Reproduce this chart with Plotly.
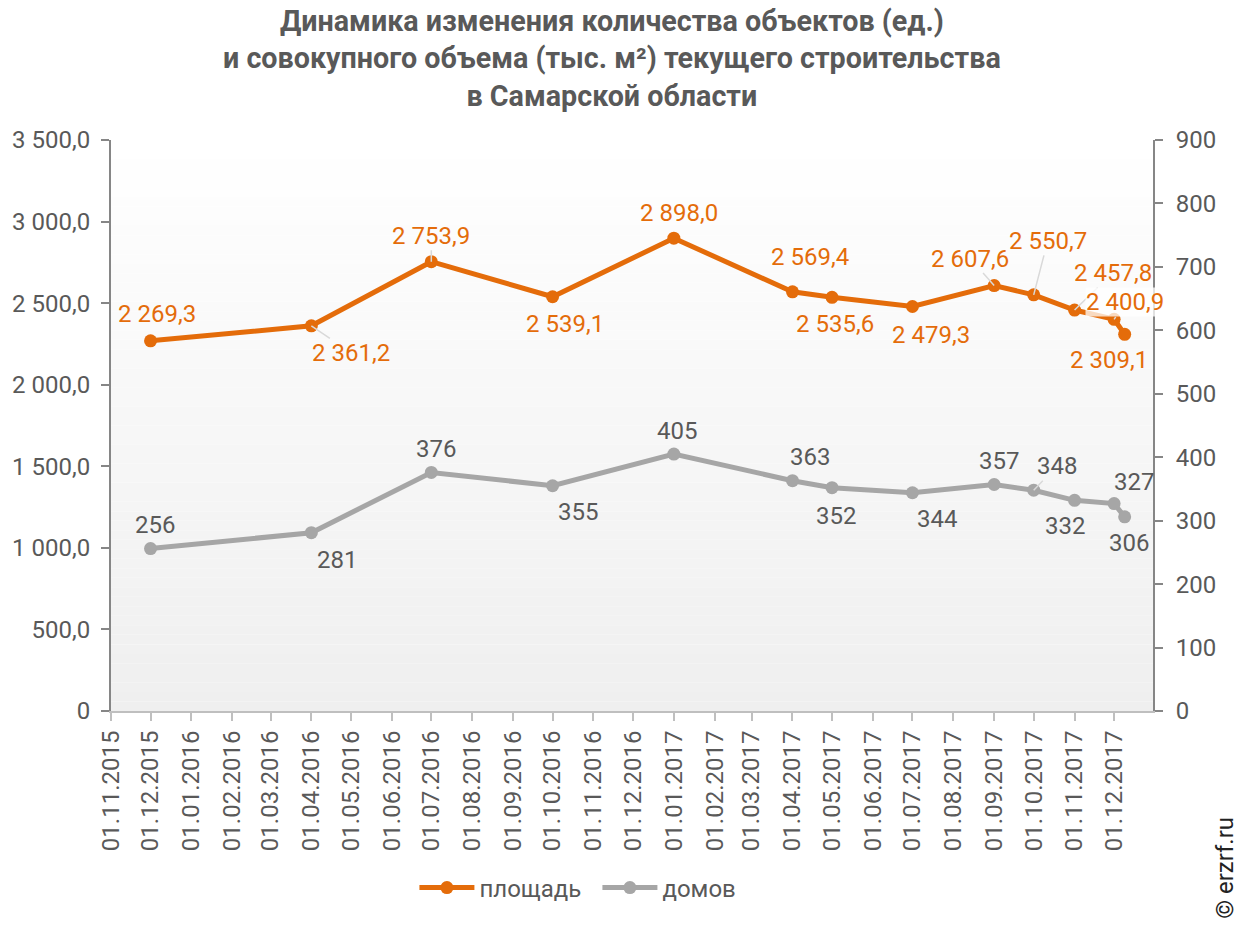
import plotly.graph_objects as go

# ---------------- data ----------------
dates = ["2015-12-01", "2016-04-01", "2016-07-01", "2016-10-01", "2017-01-01",
         "2017-04-01", "2017-05-01", "2017-07-01", "2017-09-01", "2017-10-01",
         "2017-11-01", "2017-12-01", "2017-12-09"]
area = [2269.3, 2361.2, 2753.9, 2539.1, 2898.0, 2569.4, 2535.6, 2479.3,
        2607.6, 2550.7, 2457.8, 2400.9, 2309.1]
houses = [256, 281, 376, 355, 405, 363, 352, 344, 357, 348, 332, 327, 306]
left_ticks = [0, 500, 1000, 1500, 2000, 2500, 3000, 3500]
right_ticks = [0, 100, 200, 300, 400, 500, 600, 700, 800, 900]
series_names = ["площадь", "домов"]
title_lines = ["Динамика изменения количества объектов (ед.)",
               "и совокупного объема (тыс. м²) текущего строительства",
               "в Самарской области"]

# ---------------- label placement (pixels) ----------------
area_off = [(6, -27), (40, 27), (0, -26), (12, 27), (5, -25), (18, -35), (3, 27),
            (19, 28), (-24, -27), (14, -54), (38, -37), (11, -17), (-16, 26)]
area_leader = [False, True, True, False, False, False, False, False, True, True,
               True, True, False]
house_off = [(4, -24), (26, 27), (5, -23), (25, 26), (3, -23), (18, -24), (4, 28),
             (25, 26), (5, -24), (23, -24), (-10, 26), (20, -22), (4, 26)]
house_leader = [False] * 9 + [True] + [False] * 3

ORANGE = "#E46C0A"
GRAY = "#A6A6A6"
TXT = "#595959"
FONT = "Roboto"
FS = 24
L, R, T, B = 109, 98, 140, 215
W, H = 1251, 926
PW, PH = W - L - R, H - T - B


def fmt_ru(v, dec=1):
    if v == 0:
        return "0"
    s = f"{v:,.{dec}f}"
    return s.replace(",", " ").replace(".", ",")


fig = go.Figure()
fig.add_trace(go.Scatter(x=dates, y=area, name=series_names[0], mode="lines+markers",
                         line=dict(color=ORANGE, width=5),
                         marker=dict(color=ORANGE, size=13), yaxis="y"))
fig.add_trace(go.Scatter(x=dates, y=houses, name=series_names[1], mode="lines+markers",
                         line=dict(color=GRAY, width=5),
                         marker=dict(color=GRAY, size=13), yaxis="y2"))

ann = []
for d, v, (dx, dy), ld in zip(dates, area, area_off, area_leader):
    ann.append(dict(x=d, y=v, xref="x", yref="y", text=fmt_ru(v), showarrow=True,
                    ax=dx, ay=dy, arrowhead=0, arrowwidth=1.5,
                    arrowcolor="#D9D9D9" if ld else "rgba(0,0,0,0)",
                    font=dict(family=FONT, size=FS, color=ORANGE),
                    bgcolor="rgba(255,255,255,0.75)" if v == 2400.9 else None,
                    borderpad=0))
for d, v, (dx, dy), ld in zip(dates, houses, house_off, house_leader):
    ann.append(dict(x=d, y=v, xref="x", yref="y2", text=str(v), showarrow=True,
                    ax=dx, ay=dy, arrowhead=0, arrowwidth=1.5,
                    arrowcolor="#D9D9D9" if ld else "rgba(0,0,0,0)",
                    font=dict(family=FONT, size=FS, color=TXT), borderpad=0))

# title
ann.append(dict(text="<br>".join(title_lines), xref="paper", yref="paper",
                x=(611 - L) / PW, y=1 + (T - 2) / PH, xanchor="center", yanchor="top",
                showarrow=False, font=dict(family=FONT, size=28.7, color=TXT, weight="bold"),
                align="center"))
# watermark
ann.append(dict(text="© erzrf.ru", xref="paper", yref="paper",
                x=(1225 - L) / PW, y=-(868 - (H - B)) / PH, xanchor="center", yanchor="middle",
                showarrow=False, textangle=-90, font=dict(family=FONT, size=FS, color="#222222")))

# gradient background
shapes = []
N = 60
for i in range(N):
    t = (i + 0.5) / N
    c = int(round(255 - (255 - 239) * t))
    shapes.append(dict(type="rect", xref="x domain", yref="y domain",
                       x0=0, x1=1, y0=1 - (i + 1) / N, y1=1 - i / N,
                       fillcolor=f"rgb({c},{c},{c})", line=dict(width=0), layer="below"))

fig.update_layout(
    width=W, height=H,
    margin=dict(l=L, r=R, t=T, b=B),
    paper_bgcolor="white", plot_bgcolor="white",
    separators=", ",
    font=dict(family=FONT, size=FS, color=TXT),
    showlegend=True,
    legend=dict(orientation="h", x=(413 - L) / PW, xanchor="left", y=-(888 - (H - B)) / PH,
                yanchor="middle", font=dict(family=FONT, size=FS, color=TXT),
                itemwidth=55, entrywidth=113, entrywidthmode="pixels",
                bgcolor="rgba(0,0,0,0)"),
    annotations=ann,
    shapes=shapes,
    xaxis=dict(type="date", range=["2015-11-01", "2017-12-30 12:00"], dtick="M1",
               tick0="2015-11-01", tickformat="%d.%m.%Y", tickangle=-90,
               showgrid=False, showline=True, linecolor="#BFBFBF", linewidth=2,
               ticks="outside", ticklen=8, tickcolor="#BFBFBF", tickwidth=2,
               tickfont=dict(family=FONT, size=FS, color=TXT), zeroline=False),
    yaxis=dict(range=[0, 3500], tickvals=left_ticks,
               ticktext=[fmt_ru(v) for v in left_ticks],
               showgrid=False, showline=True, linecolor="#868686", linewidth=2,
               ticks="outside", ticklen=8, tickcolor="#868686", tickwidth=2,
               tickfont=dict(family=FONT, size=FS, color=TXT), zeroline=False,
               ticklabelstandoff=6),
    yaxis2=dict(range=[0, 900], tickvals=right_ticks, overlaying="y", side="right",
                showgrid=False, showline=True, linecolor="#868686", linewidth=2,
                ticks="outside", ticklen=8, tickcolor="#868686", tickwidth=2,
                tickfont=dict(family=FONT, size=FS, color=TXT), zeroline=False,
                ticklabelstandoff=8),
)

fig.write_html("out.html", config={"displayModeBar": False},
               post_script="document.body.style.margin='0';document.body.style.overflow='hidden';")
